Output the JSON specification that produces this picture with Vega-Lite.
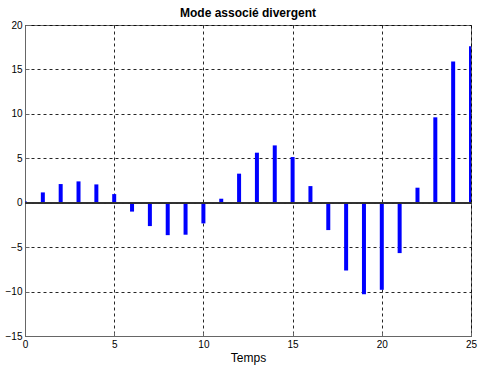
{
  "$schema": "https://vega.github.io/schema/vega-lite/v6.json",
  "width": 446,
  "height": 311,
  "autosize": {"type": "none"},
  "padding": {"left": 25, "top": 25, "right": 14, "bottom": 31},
  "background": "#ffffff",
  "config": {
    "font": "Liberation Sans",
    "view": {"stroke": "#666666", "strokeWidth": 1}
  },
  "title": {
    "text": "Mode associé divergent",
    "fontSize": 12,
    "fontWeight": "bold",
    "color": "#000000",
    "anchor": "middle",
    "offset": 0
  },
  "data": {
    "values": [
      {"t": 0, "v": 0.15},
      {"t": 1, "v": 1.16},
      {"t": 2, "v": 2.1},
      {"t": 3, "v": 2.4},
      {"t": 4, "v": 2.06},
      {"t": 5, "v": 0.97},
      {"t": 6, "v": -1.0},
      {"t": 7, "v": -2.63},
      {"t": 8, "v": -3.65},
      {"t": 9, "v": -3.6},
      {"t": 10, "v": -2.33},
      {"t": 11, "v": 0.45},
      {"t": 12, "v": 3.27},
      {"t": 13, "v": 5.63},
      {"t": 14, "v": 6.45},
      {"t": 15, "v": 5.14},
      {"t": 16, "v": 1.87},
      {"t": 17, "v": -3.08},
      {"t": 18, "v": -7.63},
      {"t": 19, "v": -10.3},
      {"t": 20, "v": -9.8},
      {"t": 21, "v": -5.67},
      {"t": 22, "v": 1.69},
      {"t": 23, "v": 9.61},
      {"t": 24, "v": 15.9},
      {"t": 25, "v": 17.6}
    ]
  },
  "layer": [
    {
      "mark": {"type": "rule", "color": "#0000ff", "strokeWidth": 4, "strokeCap": "butt", "clip": true},
      "encoding": {
        "x": {
          "field": "t",
          "type": "quantitative",
          "scale": {"domain": [0, 25], "nice": false, "zero": false},
          "axis": {
            "title": "Temps",
            "titleFont": "Liberation Sans",
            "titleFontSize": 12,
            "titleFontWeight": "normal",
            "titleColor": "#000000",
            "titlePadding": 3,
            "values": [0, 5, 10, 15, 20, 25],
            "labelFontSize": 10,
            "labelColor": "#000000",
            "labelPadding": 7,
            "labelFlush": false,
            "tickSize": -4,
            "tickColor": "#666666",
            "domainColor": "#666666",
            "grid": true,
            "gridColor": "#000000",
            "gridDash": [3, 3],
            "gridOpacity": 0.85,
            "gridWidth": 1
          }
        },
        "y": {
          "field": "v",
          "type": "quantitative",
          "scale": {"domain": [-15, 20], "nice": false, "zero": false},
          "axis": {
            "title": null,
            "values": [-15, -10, -5, 0, 5, 10, 15, 20],
            "labelFontSize": 10,
            "labelColor": "#000000",
            "labelPadding": 7,
            "labelFlush": false,
            "tickSize": -4,
            "tickColor": "#666666",
            "domainColor": "#666666",
            "grid": true,
            "gridColor": "#000000",
            "gridDash": [3, 3],
            "gridOpacity": 0.85,
            "gridWidth": 1
          }
        },
        "y2": {"datum": 0}
      }
    },
    {
      "mark": {"type": "rule", "color": "#333333", "strokeWidth": 1},
      "encoding": {
        "x": {"value": 0},
        "x2": {"value": 446},
        "y": {"datum": 0, "type": "quantitative"}
      }
    }
  ]
}
